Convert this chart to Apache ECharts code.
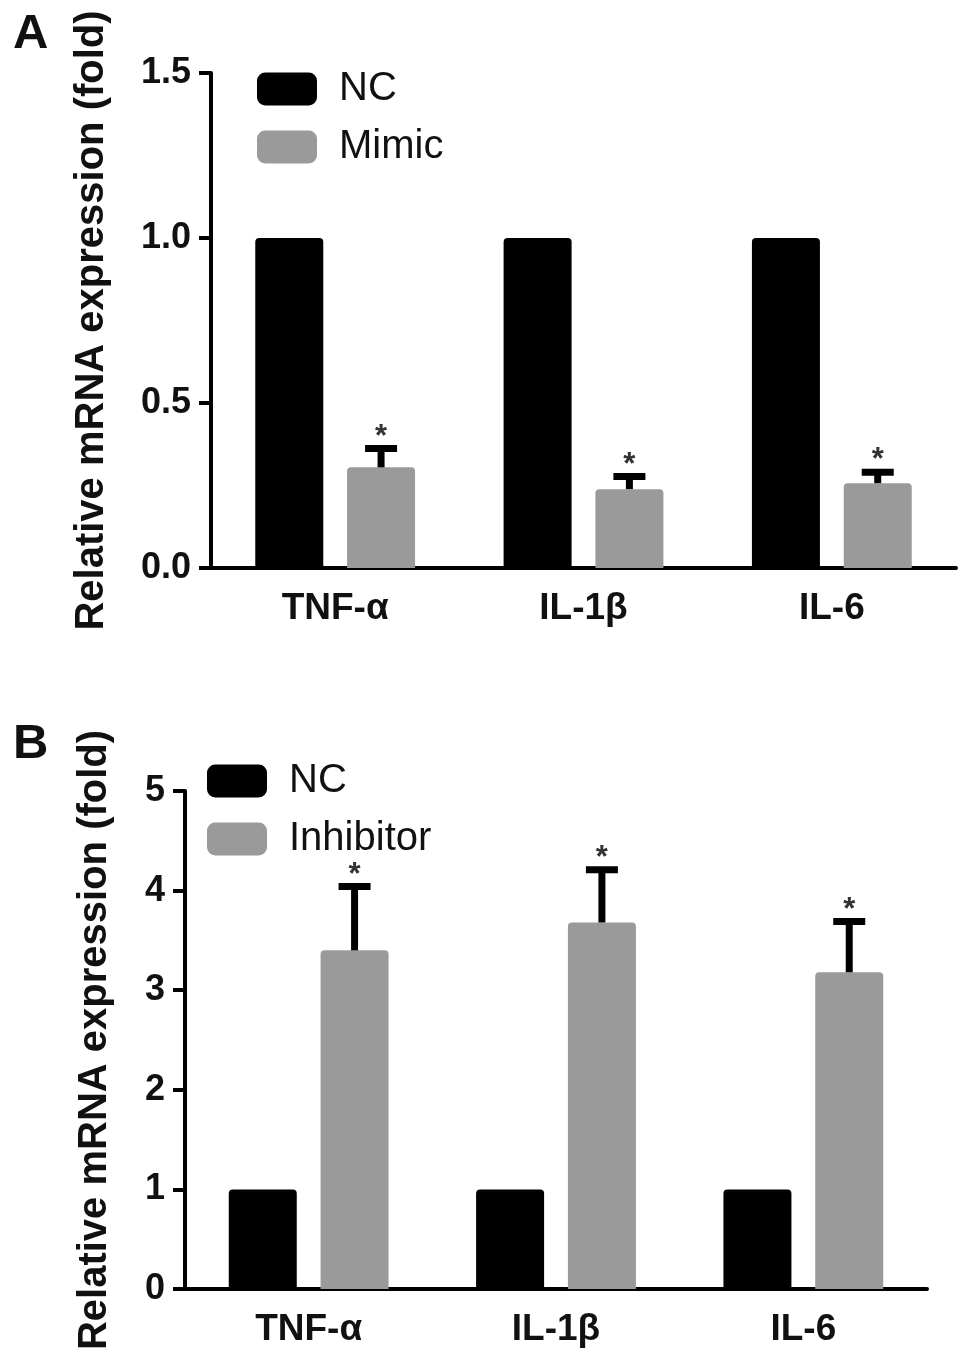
<!DOCTYPE html>
<html>
<head>
<meta charset="utf-8">
<script src="https://cdn.jsdelivr.net/npm/echarts@6/dist/echarts.min.js"></script>
<style>
html,body{margin:0;padding:0;background:#fff;}
#chart{width:969px;height:1364px;}
</style>
</head>
<body>
<div id="chart"></div>
<script>
// ---- data ----
const categories = ['TNF-α', 'IL-1β', 'IL-6'];
const ncA = [1, 1, 1];
const mimicA = [0.305, 0.239, 0.257];
const mimicUpperA = [0.362, 0.277, 0.290];
const ncB = [1, 1, 1];
const inhibitorB = [3.40, 3.68, 3.18];
const inhibitorUpperB = [4.04, 4.21, 3.69];
const yTicksA = [0, 0.5, 1.0, 1.5];
const yTicksB = [0, 1, 2, 3, 4, 5];

const FONT = 'Arial, "Liberation Sans", Helvetica, sans-serif';
const BLACK = '#000000';
const GRAY = '#9a9a9a';
const BAR_W = 68;
const GAP_PCT = 35;
const OFFSET = (BAR_W + BAR_W * GAP_PCT / 100) / 2;

function errRender(params, api) {
  const idx = api.value(0);
  const mean = api.value(1);
  const up = api.value(2);
  const p0 = api.coord([idx, mean]);
  const p1 = api.coord([idx, up]);
  const x = p0[0] + OFFSET;
  return {
    type: 'group',
    children: [
      { type: 'line', shape: { x1: x, y1: p0[1], x2: x, y2: p1[1] + 2 },
        style: { stroke: '#000', lineWidth: 7 } },
      { type: 'line', shape: { x1: x - 16, y1: p1[1], x2: x + 16, y2: p1[1] },
        style: { stroke: '#000', lineWidth: 7 } },
      { type: 'text', x: x, y: p1[1] + 4,
        style: { text: '*', fill: '#333', font: 'bold 31px ' + FONT, align: 'center', verticalAlign: 'bottom' } }
    ]
  };
}

function axisCommon() {
  return {
    axisLine: { lineStyle: { color: '#000', width: 4 } },
    axisTick: { lineStyle: { color: '#000', width: 4 } },
    splitLine: { show: false }
  };
}

const legendText = { fontFamily: FONT, fontSize: 40, color: '#111', padding: [0, 0, 0, 17] };

const chart = echarts.init(document.getElementById('chart'), null, { renderer: 'canvas' });
const option = {
  backgroundColor: '#fff',
  animation: false,
  title: [
    { text: 'A', left: 8, top: 5, textStyle: { fontFamily: FONT, fontWeight: 'bold', fontSize: 49, color: '#111' } },
    { text: 'B', left: 8, top: 715, textStyle: { fontFamily: FONT, fontWeight: 'bold', fontSize: 49, color: '#111' } }
  ],
  legend: [
    { data: ['NC', 'Mimic'], orient: 'vertical', left: 257, top: 69, padding: 0, itemWidth: 60, itemHeight: 33, itemGap: 18,
      icon: 'roundRect', selectedMode: false, textStyle: legendText },
    { data: ['NC', 'Inhibitor'], orient: 'vertical', left: 207, top: 761, padding: 0, itemWidth: 60, itemHeight: 33, itemGap: 18,
      icon: 'roundRect', selectedMode: false, textStyle: legendText }
  ],
  grid: [
    { left: 211, right: 13, top: 73, height: 495 },
    { left: 185, right: 42, top: 791, height: 498 }
  ],
  xAxis: [
    Object.assign(axisCommon(), {
      type: 'category', gridIndex: 0, data: categories,
      axisTick: { alignWithLabel: true, length: 10, lineStyle: { color: '#000', width: 4 } },
      axisLabel: { fontFamily: FONT, fontWeight: 'bold', fontSize: 37, color: '#111', margin: 22 }
    }),
    Object.assign(axisCommon(), {
      type: 'category', gridIndex: 1, data: categories,
      axisTick: { alignWithLabel: true, length: 10, lineStyle: { color: '#000', width: 4 } },
      axisLabel: { fontFamily: FONT, fontWeight: 'bold', fontSize: 37, color: '#111', margin: 22 }
    })
  ],
  yAxis: [
    Object.assign(axisCommon(), {
      type: 'value', gridIndex: 0, min: yTicksA[0], max: yTicksA[yTicksA.length - 1], interval: 0.5,
      axisLine: { show: true, lineStyle: { color: '#000', width: 4 } },
      axisTick: { show: true, length: 12, lineStyle: { color: '#000', width: 4 } },
      axisLabel: { fontFamily: FONT, fontWeight: 'bold', fontSize: 36, color: '#111', margin: 20,
        formatter: v => v.toFixed(1) },
      name: 'Relative mRNA expression (fold)', nameLocation: 'middle', nameGap: 99,
      nameTextStyle: { fontFamily: FONT, fontWeight: 'bold', fontSize: 40, color: '#111' }
    }),
    Object.assign(axisCommon(), {
      type: 'value', gridIndex: 1, min: yTicksB[0], max: yTicksB[yTicksB.length - 1], interval: 1,
      axisLine: { show: true, lineStyle: { color: '#000', width: 4 } },
      axisTick: { show: true, length: 12, lineStyle: { color: '#000', width: 4 } },
      axisLabel: { fontFamily: FONT, fontWeight: 'bold', fontSize: 36, color: '#111', margin: 20 },
      name: 'Relative mRNA expression (fold)', nameLocation: 'middle', nameGap: 70,
      nameTextStyle: { fontFamily: FONT, fontWeight: 'bold', fontSize: 40, color: '#111' }
    })
  ],
  series: [
    { name: 'NC', type: 'bar', xAxisIndex: 0, yAxisIndex: 0, data: ncA, barWidth: BAR_W, barGap: GAP_PCT + '%',
      itemStyle: { color: BLACK, borderRadius: [4, 4, 0, 0] } },
    { name: 'Mimic', type: 'bar', xAxisIndex: 0, yAxisIndex: 0, data: mimicA, barWidth: BAR_W, barGap: GAP_PCT + '%',
      itemStyle: { color: GRAY, borderRadius: [4, 4, 0, 0] } },
    { name: 'MimicErr', type: 'custom', xAxisIndex: 0, yAxisIndex: 0, renderItem: errRender, clip: false, z: 5,
      encode: { x: 0, y: 1 },
      data: categories.map((c, i) => [i, mimicA[i], mimicUpperA[i]]) },
    { name: 'NC', type: 'bar', xAxisIndex: 1, yAxisIndex: 1, data: ncB, barWidth: BAR_W, barGap: GAP_PCT + '%',
      itemStyle: { color: BLACK, borderRadius: [4, 4, 0, 0] } },
    { name: 'Inhibitor', type: 'bar', xAxisIndex: 1, yAxisIndex: 1, data: inhibitorB, barWidth: BAR_W, barGap: GAP_PCT + '%',
      itemStyle: { color: GRAY, borderRadius: [4, 4, 0, 0] } },
    { name: 'InhibitorErr', type: 'custom', xAxisIndex: 1, yAxisIndex: 1, renderItem: errRender, clip: false, z: 5,
      encode: { x: 0, y: 1 },
      data: categories.map((c, i) => [i, inhibitorB[i], inhibitorUpperB[i]]) }
  ]
};
chart.setOption(option);
</script>
</body>
</html>
